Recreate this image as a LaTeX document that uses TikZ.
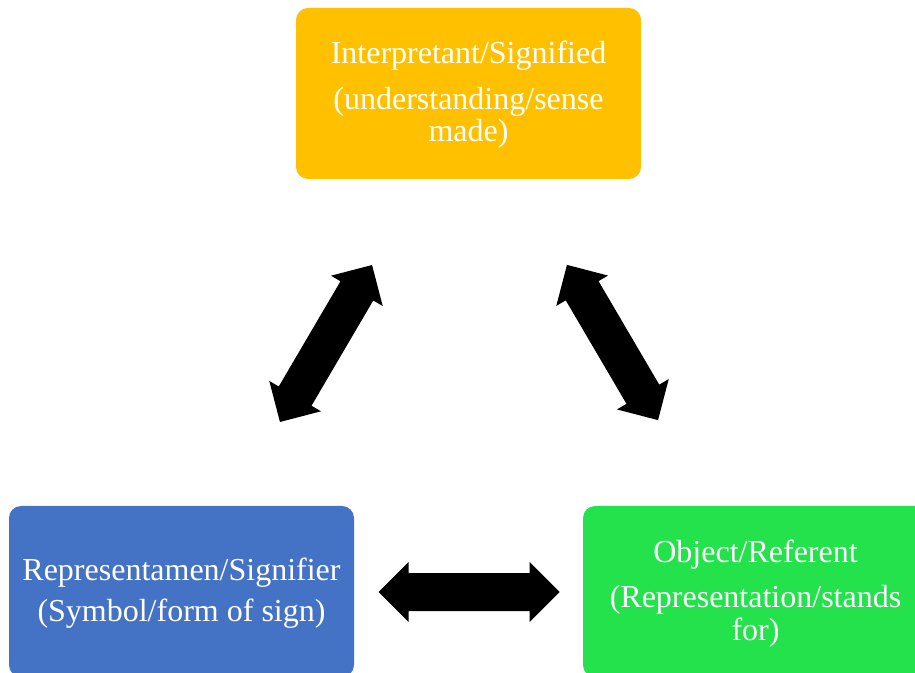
\documentclass[tikz,border=0pt]{standalone}
\usepackage{fontspec}
\setmainfont{Liberation Serif}
\definecolor{orangeC}{RGB}{255,192,0}
\definecolor{blueC}{RGB}{68,114,196}
\definecolor{greenC}{RGB}{36,226,75}
% double-headed block arrow: centre, angle, overall length
\newcommand{\twohead}[3]{%
  \begin{scope}[shift={#1}, rotate=#2]
    \fill[black] (-#3/2,0) -- ++(30,30) -- ++(0,-11) -- (#3/2-30,19) -- ++(0,11)
      -- (#3/2,0) -- (#3/2-30,-30) -- ++(0,11) -- (-#3/2+30,-19) -- ++(0,-11) -- cycle;
  \end{scope}}
\begin{document}
\begin{tikzpicture}[x=1pt,y=1pt,
  box/.style={rounded corners=12pt, minimum width=345pt, minimum height=171pt,
    inner sep=0pt, draw=none},
  lbl/.style={text=white, font=\fontsize{32}{32}\selectfont, anchor=base,
    inner sep=0pt}]
\useasboundingbox (0,0) rectangle (915,672);
\clip (0,0) rectangle (915,672);

% the three corners of the sign
\node[box, fill=orangeC] (interp) at (468.5,578.5) {};
\node[box, fill=blueC]   (repr)   at (181.5,80.5) {};
\node[box, fill=greenC]  (obj)    at (755.5,80.5) {};

\node[lbl] (interpA) at (468.5,608) {Interpretant/Signified};
\node[lbl] (interpB) at (468.5,562) {(understanding/sense};
\node[lbl] (interpC) at (468.5,530) {made)};

\node[lbl] (reprA) at (181.5,92) {Representamen/Signifier};
\node[lbl] (reprB) at (181.5,51) {(Symbol/form of sign)};

\node[lbl] (objA) at (755.5,110) {Object/Referent};
\node[lbl] (objB) at (755.5,65)  {(Representation/stands};
\node[lbl] (objC) at (755.5,32)  {for)};

% two-way relations between the corners
\coordinate (armL) at (326,328.5);
\coordinate (armR) at (612.5,329.5);
\coordinate (armB) at (469,80);
\twohead{(armL)}{59.6}{182}
\twohead{(armR)}{-59.6}{180}
\twohead{(armB)}{0}{181}
\end{tikzpicture}
\end{document}
